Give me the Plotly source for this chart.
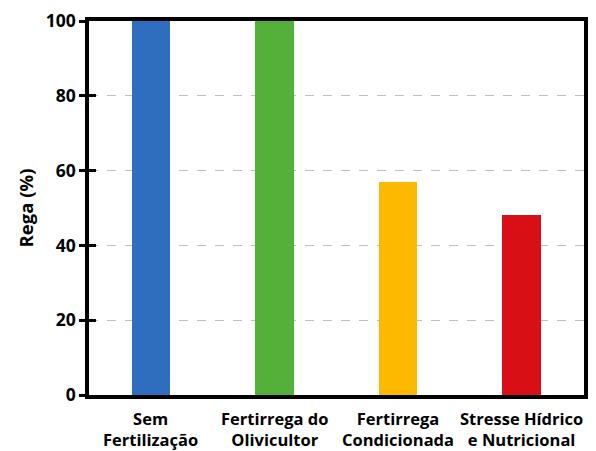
import plotly.graph_objects as go

categories = ["Sem Fertilização", "Fertirrega do Olivicultor",
              "Fertirrega Condicionada", "Stresse Hídrico e Nutricional"]
label_lines = [("Sem", "Fertilização"), ("Fertirrega do", "Olivicultor"),
               ("Fertirrega", "Condicionada"), ("Stresse Hídrico", "e Nutricional")]
rega = [100, 100, 57, 48]
colors = ["#2F6EBE", "#55B03A", "#FDB900", "#D90F16"]
y_ticks = [0, 20, 40, 60, 80, 100]

font_family = "'Open Sans', sans-serif"
bold = dict(family=font_family, color="black", weight="bold")

fig = go.Figure()
fig.add_trace(go.Bar(
    x=categories, y=rega,
    marker=dict(color=colors, line=dict(width=0)),
    width=0.31,
    showlegend=False,
))
# invisible trace on the overlay axis so its inside ticks render
fig.add_trace(go.Scatter(x=categories, y=rega, yaxis="y2", mode="markers",
                         marker=dict(opacity=0), showlegend=False, hoverinfo="skip"))

# two-line category labels below the axis
for cat, lines in zip(categories, label_lines):
    fig.add_annotation(
        x=cat, xref="x", y=0, yref="paper",
        yanchor="top", yshift=-11, borderpad=0,
        text="<br>".join(lines), showarrow=False,
        font=dict(size=16.5, **bold),
    )

fig.update_layout(
    width=596, height=451,
    margin=dict(l=89, r=8, t=20, b=56),
    plot_bgcolor="white", paper_bgcolor="white",
    font=dict(family=font_family, size=16, color="black"),
    xaxis=dict(
        showline=True, mirror=True, linecolor="black", linewidth=3.5,
        ticks="", showgrid=False, showticklabels=False,
    ),
    yaxis=dict(
        range=[0, 100], tickvals=y_ticks,
        showline=True, mirror=True, linecolor="black", linewidth=3.5,
        ticks="outside", ticklen=6, tickwidth=3, tickcolor="black",
        showgrid=True, gridcolor="#BFBFBF", griddash="dash", gridwidth=1,
        zeroline=False,
        tickfont=dict(size=17.5, **bold),
        title=dict(text="Rega (%)", standoff=8,
                   font=dict(size=18.5, **bold)),
    ),
    yaxis2=dict(
        range=[0, 100], tickvals=y_ticks, overlaying="y", side="left",
        ticks="inside", ticklen=7, tickwidth=3, tickcolor="black",
        showticklabels=False, showgrid=False, zeroline=False, showline=False,
    ),
    bargap=0,
)

fig.write_html("out.html")
